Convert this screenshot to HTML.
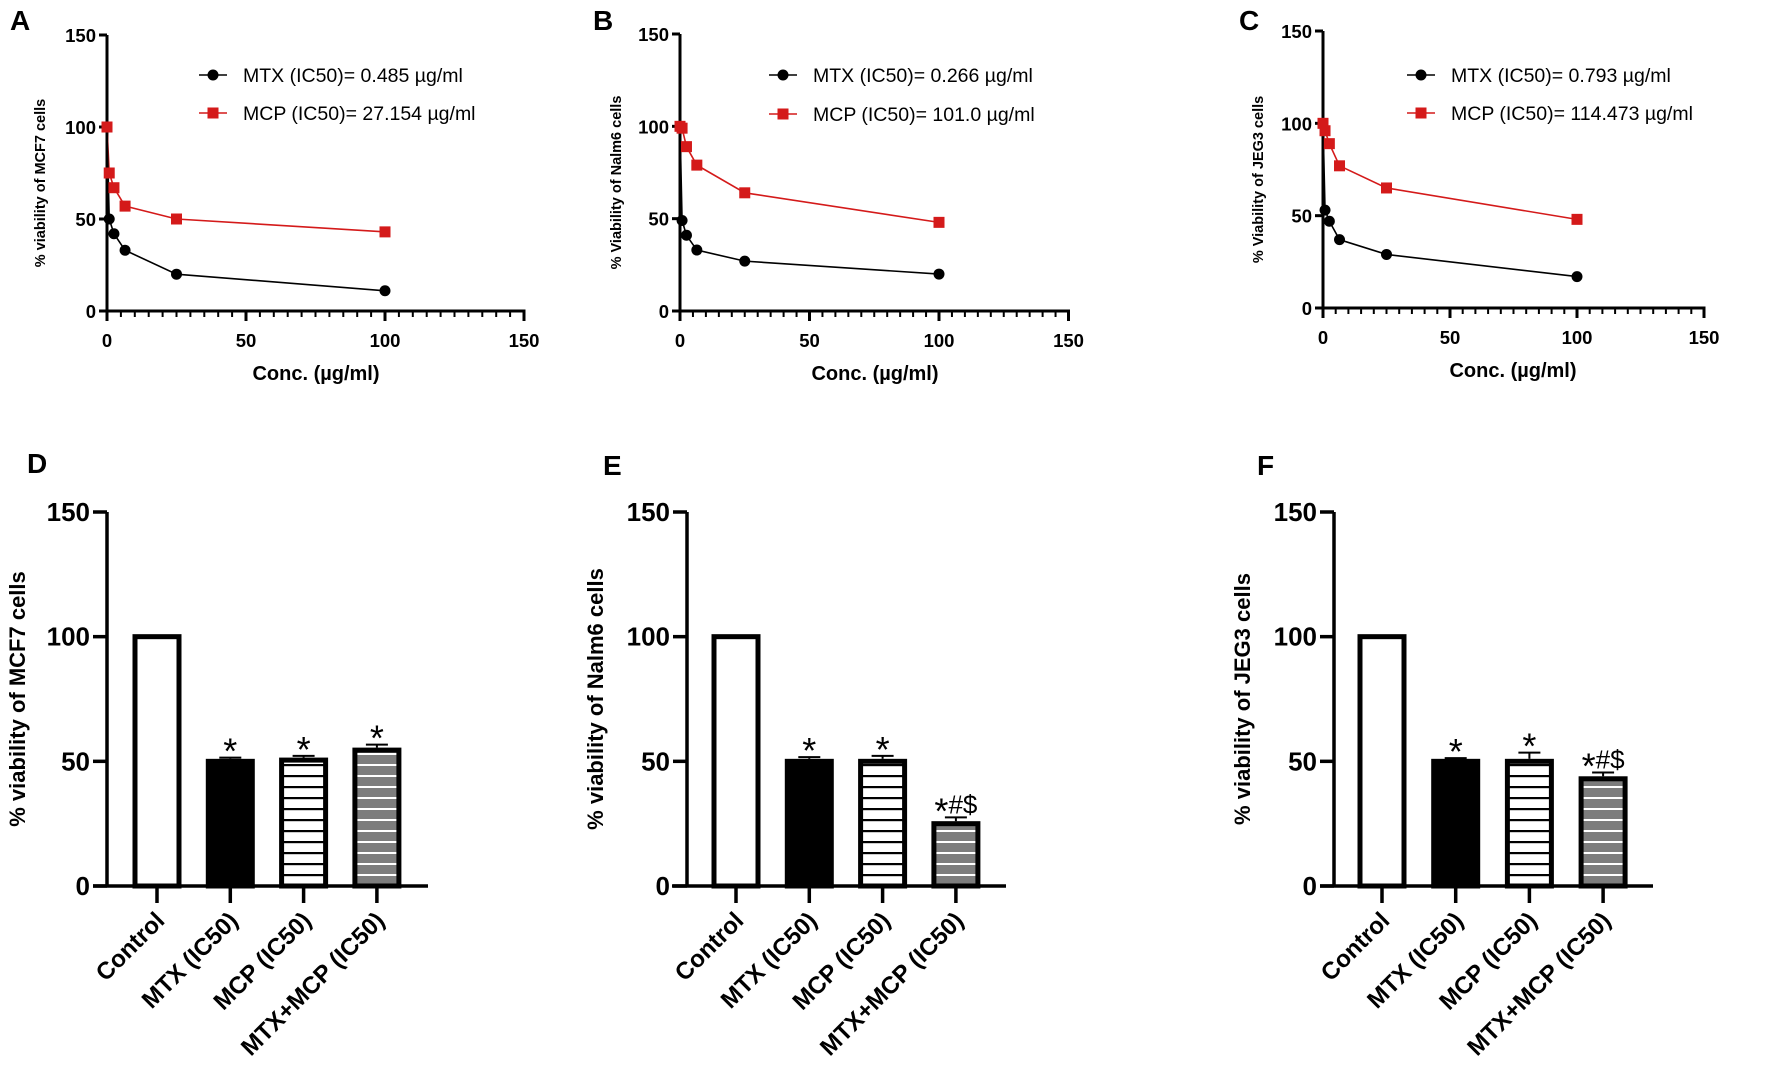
<!DOCTYPE html>
<html><head><meta charset="utf-8">
<style>
html,body{margin:0;padding:0;background:#fff;}
svg{display:block;font-family:"Liberation Sans",Arial,sans-serif;}
</style></head>
<body>
<svg id="fig" width="1772" height="1091" viewBox="0 0 1772 1091" xmlns="http://www.w3.org/2000/svg">
<defs>
<pattern id="hatchW" patternUnits="userSpaceOnUse" width="8" height="11"><rect width="8" height="11" fill="#fff"/><rect y="5" width="8" height="2.2" fill="#000"/></pattern>
<pattern id="hatchG" patternUnits="userSpaceOnUse" width="8" height="11"><rect width="8" height="11" fill="#7d7d7d"/><rect y="5" width="8" height="2" fill="#fff"/></pattern>
</defs>
</svg>
<script>
// ---- Line chart data ----
const concs = [0, 0.8, 2.5, 6.5, 25, 100];
const mtxA = [100, 50, 42, 33, 20, 11];
const mcpA = [100, 75, 67, 57, 50, 43];
const mtxB = [100, 49, 41, 33, 27, 20];
const mcpB = [100, 99, 89, 79, 64, 48];
const mtxC = [100, 53, 47, 37, 29, 17];
const mcpC = [100, 96, 89, 77, 65, 48];
const xTicks = [0, 50, 100, 150];
const yTicks = [0, 50, 100, 150];
const legendMTX = ["MTX (IC50)= 0.485 µg/ml", "MTX (IC50)= 0.266 µg/ml", "MTX (IC50)= 0.793 µg/ml"];
const legendMCP = ["MCP (IC50)= 27.154 µg/ml", "MCP (IC50)= 101.0 µg/ml", "MCP (IC50)= 114.473 µg/ml"];
const lineYLabels = ["% viability of MCF7 cells", "% Viability of Nalm6 cells", "% Viability of JEG3 cells"];
// ---- Bar chart data ----
const barCats = ["Control", "MTX (IC50)", "MCP (IC50)", "MTX+MCP (IC50)"];
const barD = [100, 50, 50.5, 54.5];
const errD = [0, 0.5, 0.7, 1.2];
const barE = [100, 50, 50, 25];
const errE = [0, 0.7, 1.2, 1.5];
const barF = [100, 50, 50, 43];
const errF = [0, 0.3, 2.5, 1.5];
const sigD = ["", "*", "*", "*"];
const sigE = ["", "*", "*", "*#$"];
const sigF = ["", "*", "*", "*#$"];
const barYLabels = ["% viability of MCF7 cells", "% viability of Nalm6 cells", "% viability of JEG3 cells"];

const svg = document.getElementById('fig');
const NS = "http://www.w3.org/2000/svg";
function mk(tag, attrs, parent) {
  const e = document.createElementNS(NS, tag);
  for (const k in attrs) e.setAttribute(k, attrs[k]);
  (parent || svg).appendChild(e);
  return e;
}
function txt(s, attrs, parent) { const t = mk('text', attrs, parent); t.textContent = s; return t; }

// Line panels
const linePanels = [
  {letter:"A", lx:10, ax:107, y0:311, y150:35, x100:385, mtx:mtxA, mcp:mcpA, legX:213, legY1:75, legY2:113, ylx:40, xlc:316},
  {letter:"B", lx:593, ax:680, y0:311, y150:34, x100:939, mtx:mtxB, mcp:mcpB, legX:783, legY1:75, legY2:114, ylx:616, xlc:875},
  {letter:"C", lx:1239, ax:1323, y0:308, y150:31, x100:1577, mtx:mtxC, mcp:mcpC, legX:1421, legY1:75, legY2:113, ylx:1258, xlc:1513}
];
linePanels.forEach((p, i) => {
  const g = mk('g', {});
  
  
  const xs = v => p.ax + (p.x100 - p.ax) * v / 100;
  const ys = v => p.y0 - (p.y0 - p.y150) * v / 150;
  const pl = txt(p.letter, {x:p.lx, y:30, 'font-size':28, 'font-weight':'bold'}, g);
   
  const ya = mk('line', {x1:p.ax, y1:p.y150, x2:p.ax, y2:p.y0, stroke:'#000', 'stroke-width':3}, g);
   
  const xa = mk('line', {x1:p.ax - 8, y1:p.y0, x2:xs(150) + 1.5, y2:p.y0, stroke:'#000', 'stroke-width':3}, g);
   
  yTicks.forEach(v => {
    mk('line', {x1:p.ax - 8, y1:ys(v), x2:p.ax, y2:ys(v), stroke:'#000', 'stroke-width':3}, g);
    const t = txt(String(v), {x:p.ax - 11, y:ys(v) + 7, 'font-size':18.5, 'font-weight':'bold', 'text-anchor':'end'}, g);
     
  });
  for (let v = 0; v <= 150; v += 5) {
    const major = v % 50 === 0;
    mk('line', {x1:xs(v), y1:p.y0, x2:xs(v), y2:p.y0 + (major ? 10 : 6), stroke:'#000', 'stroke-width':major ? 3 : 2}, g);
  }
  xTicks.forEach(v => {
    const t = txt(String(v), {x:xs(v), y:p.y0 + 36, 'font-size':18.5, 'font-weight':'bold', 'text-anchor':'middle'}, g);
     
  });
  const xl = txt("Conc. (µg/ml)", {x:p.xlc, y:p.y0 + 69, 'font-size':20, 'font-weight':'bold', 'text-anchor':'middle'}, g);
   
  const yl = txt(lineYLabels[i], {x:0, y:0, 'font-size':14.5, 'font-weight':'bold', 'text-anchor':'middle', transform:`translate(${p.ylx + 5},${(p.y0 + p.y150) / 2 + 10}) rotate(-90)`}, g);
   
  const red = '#d41a1a';
  const mcpPts = concs.map((c, k) => xs(c) + ',' + ys(p.mcp[k])).join(' ');
  const mtxPts = concs.map((c, k) => xs(c) + ',' + ys(p.mtx[k])).join(' ');
  const l1 = mk('polyline', {points:mcpPts, fill:'none', stroke:red, 'stroke-width':1.6}, g);
   
  const l2 = mk('polyline', {points:mtxPts, fill:'none', stroke:'#000', 'stroke-width':1.6}, g);
   
  concs.forEach((c, k) => {
    const c1 = mk('circle', {cx:xs(c), cy:ys(p.mtx[k]), r:5.5, fill:'#000'}, g);
     
  });
  concs.forEach((c, k) => {
    const s = mk('rect', {x:xs(c) - 5.5, y:ys(p.mcp[k]) - 5.5, width:11, height:11, fill:red}, g);
     
  });
  const lg = mk('g', {}, g);
   
  mk('line', {x1:p.legX - 14, y1:p.legY1, x2:p.legX + 14, y2:p.legY1, stroke:'#000', 'stroke-width':1.6}, lg);
  mk('circle', {cx:p.legX, cy:p.legY1, r:5.5, fill:'#000'}, lg);
  const t1 = txt(legendMTX[i], {x:p.legX + 30, y:p.legY1 + 7, 'font-size':19.5}, lg);
   
  mk('line', {x1:p.legX - 14, y1:p.legY2, x2:p.legX + 14, y2:p.legY2, stroke:red, 'stroke-width':1.6}, lg);
  mk('rect', {x:p.legX - 5.5, y:p.legY2 - 5.5, width:11, height:11, fill:red}, lg);
  const t2 = txt(legendMCP[i], {x:p.legX + 30, y:p.legY2 + 7, 'font-size':19.5}, lg);
   
});

// Bar panels
const barPanels = [
  {letter:"D", lx:27, ly:473, ax:107, xa0:93, xa1:428, c0:157, step:73.3, vals:barD, errs:errD, sig:sigD, ylx:17},
  {letter:"E", lx:603, ly:475, ax:687, xa0:672, xa1:1006, c0:736, step:73.3, vals:barE, errs:errE, sig:sigE, ylx:595},
  {letter:"F", lx:1257, ly:475, ax:1334, xa0:1320, xa1:1653, c0:1382, step:73.7, vals:barF, errs:errF, sig:sigF, ylx:1242}
];
const fills = ['#fff', '#000', 'url(#hatchW)', 'url(#hatchG)'];
const Y0 = 886, Y150 = 512;
barPanels.forEach((p, i) => {
  const g = mk('g', {});
  
  
  const ys = v => Y0 - (Y0 - Y150) * v / 150;
  const pl = txt(p.letter, {x:p.lx, y:p.ly, 'font-size':28, 'font-weight':'bold'}, g);
   
  const bw = 44;
  p.vals.forEach((v, k) => {
    const cx = p.c0 + k * p.step;
    const b = mk('rect', {x:cx - bw / 2, y:ys(v), width:bw, height:Y0 - ys(v), fill:fills[k], stroke:'#000', 'stroke-width':5}, g);
    
    
    const top = ys(v + p.errs[k]) - 2.5;
    if (p.errs[k] > 0) {
      mk('line', {x1:cx, y1:ys(v) - 2.5, x2:cx, y2:top, stroke:'#000', 'stroke-width':2}, g);
      mk('line', {x1:cx - 11, y1:top, x2:cx + 11, y2:top, stroke:'#000', 'stroke-width':2}, g);
    }
    if (p.sig[k]) {
      const s = mk('text', {x:cx, y:top - 4, 'text-anchor':'middle', 'font-size':26}, g);
       
      const a = mk('tspan', {'font-size':36, dy:10}, s); a.textContent = '*';
      if (p.sig[k].length > 1) { const r = mk('tspan', {dy:-10}, s); r.textContent = p.sig[k].slice(1); }
    }
    mk('line', {x1:cx, y1:Y0, x2:cx, y2:Y0 + 17, stroke:'#000', 'stroke-width':3.5}, g);
    const cl = txt(barCats[k], {x:0, y:0, 'font-size':24, 'font-weight':'bold', 'text-anchor':'end', transform:`translate(${cx + 9},${Y0 + 36}) rotate(-45)`}, g);
     
  });
  const ya = mk('line', {x1:p.ax, y1:Y150, x2:p.ax, y2:Y0, stroke:'#000', 'stroke-width':3.5}, g);
   
  const xa = mk('line', {x1:p.xa0, y1:Y0, x2:p.xa1, y2:Y0, stroke:'#000', 'stroke-width':3.5}, g);
   
  yTicks.forEach(v => {
    mk('line', {x1:p.ax - 14, y1:ys(v), x2:p.ax, y2:ys(v), stroke:'#000', 'stroke-width':3.5}, g);
    const t = txt(String(v), {x:p.ax - 17, y:ys(v) + 9, 'font-size':26, 'font-weight':'bold', 'text-anchor':'end'}, g);
     
  });
  const yl = txt(barYLabels[i], {x:0, y:0, 'font-size':22, 'font-weight':'bold', 'text-anchor':'middle', transform:`translate(${p.ylx + 8},${(Y0 + Y150) / 2 + 0}) rotate(-90)`}, g);
   
});
</script>
</body></html>
